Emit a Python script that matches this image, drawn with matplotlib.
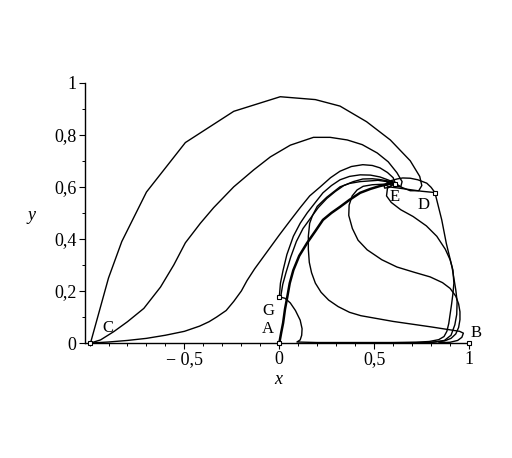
import matplotlib
matplotlib.use("Agg")
import matplotlib.pyplot as plt
import numpy as np

# trajectories (data coordinates)
c_outer_x = [-0.995, -0.90, -0.83, -0.70, -0.495, -0.24, 0.005, 0.19, 0.32, 0.46,
             0.585, 0.69, 0.74, 0.751, 0.735, 0.69, 0.645, 0.615]
c_outer_y = [0.0, 0.25, 0.39, 0.58, 0.77, 0.89, 0.946, 0.935, 0.91, 0.85,
             0.78, 0.70, 0.64, 0.605, 0.585, 0.585, 0.598, 0.612]

c_mid_x = [-0.995, -0.942, -0.872, -0.80, -0.714, -0.626, -0.556, -0.495, -0.416,
           -0.346, -0.24, -0.135, -0.047, 0.058, 0.18, 0.268, 0.358, 0.437, 0.516,
           0.574, 0.62, 0.647, 0.64, 0.62, 0.61]
c_mid_y = [0.0, 0.012, 0.044, 0.082, 0.133, 0.215, 0.30, 0.385, 0.46,
           0.52, 0.60, 0.665, 0.715, 0.76, 0.79, 0.79, 0.78, 0.762, 0.73,
           0.696, 0.654, 0.62, 0.60, 0.602, 0.613]

c_low_x = [-0.995, -0.9, -0.8, -0.7, -0.6, -0.5, -0.42, -0.37, -0.33, -0.28, -0.24,
           -0.2, -0.17, -0.13, -0.10, -0.05, 0.0, 0.055, 0.11, 0.16, 0.216, 0.27,
           0.32, 0.38, 0.44, 0.49, 0.53, 0.57, 0.60, 0.61]
c_low_y = [0.0, 0.004, 0.01, 0.018, 0.03, 0.045, 0.065, 0.082, 0.10, 0.125, 0.16,
           0.2, 0.24, 0.285, 0.315, 0.365, 0.415, 0.468, 0.52, 0.565, 0.60, 0.635,
           0.66, 0.678, 0.685, 0.682, 0.673, 0.655, 0.635, 0.615]

a_x = [0.0, 0.01, 0.02, 0.03, 0.042, 0.055, 0.074, 0.105, 0.147, 0.19, 0.23, 0.275,
       0.32, 0.37, 0.426, 0.48, 0.53, 0.575, 0.61]
a_y = [0.0, 0.04, 0.077, 0.13, 0.177, 0.23, 0.28, 0.335, 0.385, 0.43, 0.473, 0.5,
       0.523, 0.55, 0.577, 0.592, 0.603, 0.61, 0.615]

g_up_x = [0.0, 0.006, 0.02, 0.04, 0.074, 0.11, 0.147, 0.19, 0.23, 0.275, 0.32, 0.37,
          0.426, 0.48, 0.53, 0.575, 0.61]
g_up_y = [0.177, 0.23, 0.28, 0.34, 0.41, 0.46, 0.50, 0.54, 0.577, 0.605, 0.627,
          0.64, 0.646, 0.645, 0.638, 0.626, 0.615]

g_up2_x = [0.008, 0.018, 0.035, 0.06, 0.09, 0.125, 0.165, 0.205, 0.25, 0.295, 0.34,
           0.39, 0.44, 0.49, 0.53, 0.575, 0.61]
g_up2_y = [0.18, 0.225, 0.27, 0.33, 0.39, 0.44, 0.48, 0.52, 0.555, 0.582, 0.605,
           0.62, 0.63, 0.631, 0.628, 0.622, 0.615]

g_down_x = [0.0, 0.03, 0.058, 0.085, 0.11, 0.12, 0.118, 0.11, 0.093, 0.2, 0.6, 0.72,
            0.79, 0.84, 0.868, 0.883, 0.893, 0.90, 0.908, 0.915, 0.92, 0.915, 0.90,
            0.875, 0.83, 0.775, 0.705, 0.64, 0.59, 0.565, 0.57, 0.61]
g_down_y = [0.177, 0.172, 0.154, 0.125, 0.088, 0.055, 0.03, 0.012, 0.004, 0.002,
            0.002, 0.003, 0.006, 0.013, 0.025, 0.045, 0.075, 0.11, 0.15, 0.19, 0.23,
            0.28, 0.32, 0.36, 0.41, 0.45, 0.486, 0.512, 0.54, 0.565, 0.595, 0.615]

loop_x = [0.5, 0.75, 0.82, 0.87, 0.905, 0.93, 0.945, 0.952, 0.952, 0.945, 0.93, 0.9,
          0.86, 0.795, 0.71, 0.62, 0.54, 0.463, 0.415, 0.385, 0.366, 0.368, 0.384,
          0.41, 0.442, 0.49, 0.547, 0.61]
loop_y = [0.001, 0.002, 0.004, 0.008, 0.018, 0.035, 0.06, 0.09, 0.12, 0.15, 0.18,
          0.21, 0.232, 0.254, 0.272, 0.292, 0.32, 0.358, 0.395, 0.44, 0.49, 0.53,
          0.565, 0.588, 0.602, 0.608, 0.61, 0.615]

slant_x = [0.84, 0.9, 0.94, 0.962, 0.97, 0.95, 0.8, 0.6, 0.43, 0.37, 0.31, 0.26,
           0.22, 0.19, 0.17, 0.158, 0.153, 0.153, 0.16, 0.175, 0.2, 0.25, 0.32,
           0.37, 0.426, 0.52, 0.61]
slant_y = [0.001, 0.003, 0.01, 0.022, 0.038, 0.045, 0.062, 0.083, 0.105, 0.118,
           0.14, 0.165, 0.195, 0.23, 0.27, 0.31, 0.36, 0.41, 0.46, 0.49, 0.525,
           0.56, 0.60, 0.613, 0.62, 0.625, 0.615]

d_down_x = [0.82, 0.856, 0.88, 0.91, 0.93, 0.937, 0.935, 0.925, 0.905, 0.87, 0.8, 0.6]
d_down_y = [0.578, 0.473, 0.383, 0.293, 0.204, 0.16, 0.11, 0.07, 0.03, 0.01, 0.002,
            0.001]

d_e_x = [0.82, 0.75, 0.68, 0.62, 0.575, 0.56, 0.57, 0.59, 0.61]
d_e_y = [0.578, 0.583, 0.59, 0.596, 0.60, 0.608, 0.617, 0.621, 0.615]

d_top_x = [0.82, 0.8, 0.777, 0.73, 0.69, 0.65, 0.62, 0.59, 0.567, 0.553, 0.555, 0.58,
           0.61]
d_top_y = [0.578, 0.598, 0.614, 0.627, 0.633, 0.634, 0.63, 0.624, 0.614, 0.603,
           0.595, 0.598, 0.615]

# start / rest points
point_names = ["C", "A", "B", "G", "D", "E"]
point_x = [-0.995, 0.0, 1.0, 0.0, 0.82, 0.61]
point_y = [0.0, 0.0, 0.0, 0.177, 0.578, 0.612]
label_x = [-0.905, -0.058, 1.037, -0.058, 0.758, 0.61]
label_y = [0.058, 0.054, 0.038, 0.123, 0.53, 0.56]

x_major = [-0.5, 0.0, 0.5, 1.0]
x_major_labels = ["\u2212 0,5", "0", "0,5", "1"]
y_major = [0.0, 0.2, 0.4, 0.6, 0.8, 1.0]
y_major_labels = ["0", "0,2", "0,4", "0,6", "0,8", "1"]

SERIF = ["Liberation Serif", "DejaVu Serif"]

fig = plt.figure(figsize=(5.12, 4.58), dpi=100)
fig.patch.set_facecolor("white")
ax = fig.add_axes([0.166, 0.251, 0.752, 0.5685])

curves = [
    (c_outer_x, c_outer_y, 1.0),
    (c_mid_x, c_mid_y, 1.0),
    (c_low_x, c_low_y, 1.0),
    (a_x, a_y, 1.8),
    (g_up_x, g_up_y, 1.0),
    (g_up2_x, g_up2_y, 1.0),
    (g_down_x, g_down_y, 1.0),
    (loop_x, loop_y, 1.0),
    (slant_x, slant_y, 1.0),
    (d_down_x, d_down_y, 1.0),
    (d_e_x, d_e_y, 1.0),
    (d_top_x, d_top_y, 1.0),
]
for xs, ys, lw in curves:
    ax.plot(xs, ys, color="black", linewidth=lw, solid_joinstyle="round",
            solid_capstyle="round", clip_on=False)

ax.plot(point_x, point_y, linestyle="none", marker="s", markersize=3.5,
        markerfacecolor="white", markeredgecolor="black", markeredgewidth=0.8,
        clip_on=False, zorder=5)

for name, lx, ly in zip(point_names, label_x, label_y):
    ax.text(lx, ly, name, ha="center", va="center", fontsize=12,
            family=SERIF, color="black")

ax.set_xlim(-1.024, 1.005)
ax.set_ylim(0, 1.0)

for side in ["top", "right"]:
    ax.spines[side].set_visible(False)
ax.spines["left"].set_linewidth(1.0)
ax.spines["bottom"].set_linewidth(1.0)

ax.set_xticks(x_major)
ax.set_xticklabels(x_major_labels, family=SERIF, fontsize=13)
ax.set_xticks(np.round(np.arange(-1.0, 1.01, 0.1), 2), minor=True)
ax.set_yticks(y_major)
ax.set_yticklabels(y_major_labels, family=SERIF, fontsize=13)
ax.set_yticks(np.round(np.arange(0.1, 1.0, 0.2), 2), minor=True)
ax.tick_params(which="major", direction="out", length=4, width=0.8, pad=2)
ax.tick_params(which="minor", direction="out", length=2.5, width=0.7)

fig.text(278 / 512, 1 - 379 / 458, "x", ha="center", va="center",
         fontsize=13, family=SERIF, style="italic")
fig.text(32 / 512, 1 - 215 / 458, "y", ha="center", va="center",
         fontsize=13, family=SERIF, style="italic")

fig.savefig("out.png", dpi=100)
plt.close(fig)
